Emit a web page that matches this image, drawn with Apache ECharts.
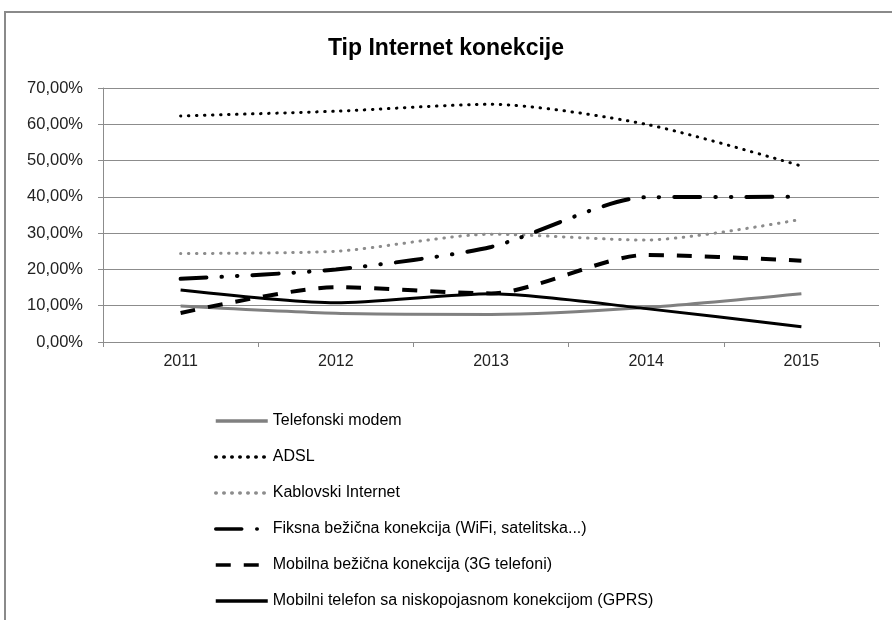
<!DOCTYPE html>
<html>
<head>
<meta charset="utf-8">
<script src="https://cdn.jsdelivr.net/npm/echarts@6/dist/echarts.min.js"></script>
<style>
  html, body { margin: 0; padding: 0; background: #fff; }
  #chart { width: 892px; height: 620px; }
</style>
</head>
<body>
<div id="chart"></div>
<script>
// 年份
var years = ["2011", "2012", "2013", "2014", "2015"];

// 各连接类型占比（%）
var telefonskiModem = [9.9, 7.9, 7.6, 9.5, 13.3];
var adsl = [62.3, 63.6, 65.5, 60.0, 48.5];
var kablovski = [24.4, 25.0, 29.7, 28.1, 33.8];
var fiksnaBezicna = [17.4, 20.0, 26.2, 39.9, 40.0];
var mobilnaBezicna = [8.0, 15.1, 13.4, 24.0, 22.4];
var mobilniGprs = [14.3, 10.8, 13.3, 9.2, 4.2];

var seriesNames = [
    "Telefonski modem",
    "ADSL",
    "Kablovski Internet",
    "Fiksna bežična konekcija (WiFi, satelitska...)",
    "Mobilna bežična konekcija (3G telefoni)",
    "Mobilni telefon sa niskopojasnom konekcijom (GPRS)"
];

var FONT = "'Liberation Sans', Arial, sans-serif";

function lineSeries(name, data, style) {
    return {
        name: name,
        type: "line",
        data: data,
        smooth: 0.25,
        symbol: "none",
        showSymbol: false,
        itemStyle: { color: style.color },
        lineStyle: style
    };
}

var chart = echarts.init(document.getElementById("chart"), null, { renderer: "canvas" });

chart.setOption({
    backgroundColor: "#ffffff",
    animation: false,
    title: {
        text: "Tip Internet konekcije",
        left: "center",
        top: 32,
        textStyle: { fontFamily: FONT, fontSize: 23, fontWeight: "bold", color: "#000" }
    },
    graphic: [
        {
            type: "rect",
            shape: { x: 5, y: 12, width: 1200, height: 1200 },
            style: { fill: "none", stroke: "#8a8a8a", lineWidth: 2 },
            silent: true
        }
    ],
    legend: {
        orient: "vertical",
        left: 209,
        top: 407,
        height: 240,
        itemWidth: 52,
        itemHeight: 14,
        itemGap: 18,
        itemStyle: { opacity: 0 },
        lineStyle: { width: 3.5 },
        textStyle: { fontFamily: FONT, fontSize: 16, lineHeight: 18, color: "#000" },
        data: seriesNames
    },
    grid: { left: 103, right: 13, top: 88, bottom: 278 },
    xAxis: {
        type: "category",
        data: years,
        boundaryGap: true,
        axisLine: { lineStyle: { color: "#8c8c8c", width: 1 } },
        axisTick: { show: true, length: 5, lineStyle: { color: "#8c8c8c" } },
        axisLabel: { fontFamily: FONT, fontSize: 16, color: "#222", margin: 12 }
    },
    yAxis: {
        type: "value",
        min: 0,
        max: 70,
        interval: 10,
        axisLine: { show: true, lineStyle: { color: "#8c8c8c", width: 1 } },
        axisTick: { show: true, length: 5, lineStyle: { color: "#8c8c8c" } },
        splitLine: { lineStyle: { color: "#8c8c8c", width: 1 } },
        axisLabel: {
            fontFamily: FONT, fontSize: 16.5, color: "#222", margin: 20,
            formatter: function (v) { return v.toFixed(2).replace(".", ",") + "%"; }
        }
    },
    series: [
        lineSeries(seriesNames[0], telefonskiModem, { color: "#808080", width: 3 }),
        lineSeries(seriesNames[1], adsl, { color: "#000", width: 3, type: [0.5, 7.5], cap: "round" }),
        lineSeries(seriesNames[2], kablovski, { color: "#8c8c8c", width: 3, type: [0.5, 7.5], cap: "round" }),
        lineSeries(seriesNames[3], fiksnaBezicna, { color: "#000", width: 4, type: [26, 15, 0.5, 15, 0.5, 15], cap: "round" }),
        lineSeries(seriesNames[4], mobilnaBezicna, { color: "#000", width: 4, type: [15, 13] }),
        lineSeries(seriesNames[5], mobilniGprs, { color: "#000", width: 3 })
    ]
});
</script>
</body>
</html>
